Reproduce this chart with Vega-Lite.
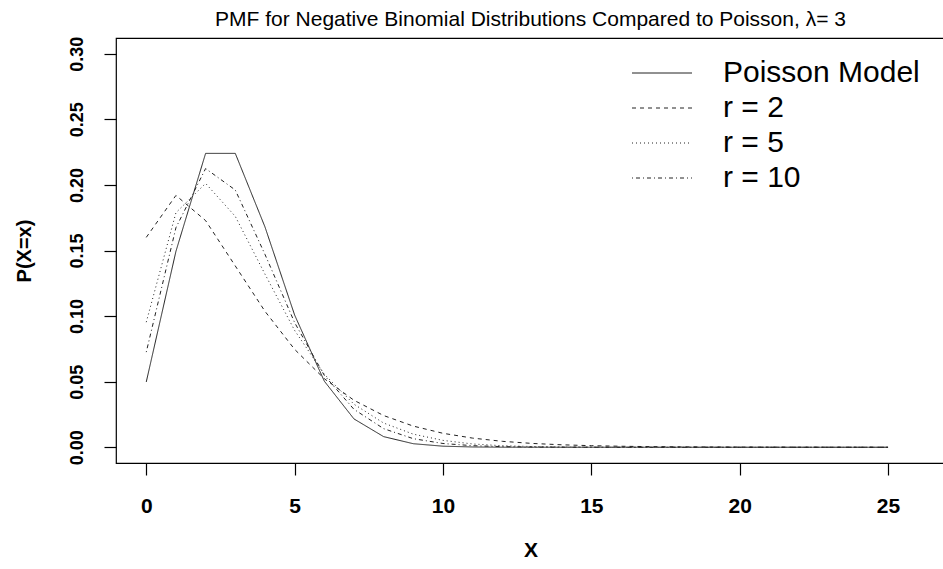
{
  "$schema": "https://vega.github.io/schema/vega-lite/v6.json",
  "width": 829,
  "height": 425,
  "autosize": {"type": "none"},
  "padding": {"left": 116, "top": 38, "right": 0, "bottom": 106},
  "background": "white",
  "title": {
    "text": "PMF for Negative Binomial Distributions Compared to Poisson, λ= 3",
    "font": "Liberation Sans",
    "fontSize": 21,
    "fontWeight": "normal",
    "color": "black",
    "anchor": "middle",
    "baseline": "alphabetic",
    "offset": 11,
    "dy": 22
  },
  "config": {
    "font": "Liberation Sans",
    "view": {"stroke": "black", "strokeWidth": 1.2}
  },
  "data": {
    "values": [
      {"x": 0, "p": 0.049787, "dist": "Poisson Model"},
      {"x": 1, "p": 0.149361, "dist": "Poisson Model"},
      {"x": 2, "p": 0.224042, "dist": "Poisson Model"},
      {"x": 3, "p": 0.224042, "dist": "Poisson Model"},
      {"x": 4, "p": 0.168031, "dist": "Poisson Model"},
      {"x": 5, "p": 0.100819, "dist": "Poisson Model"},
      {"x": 6, "p": 0.050409, "dist": "Poisson Model"},
      {"x": 7, "p": 0.021604, "dist": "Poisson Model"},
      {"x": 8, "p": 0.008102, "dist": "Poisson Model"},
      {"x": 9, "p": 0.002701, "dist": "Poisson Model"},
      {"x": 10, "p": 0.00081, "dist": "Poisson Model"},
      {"x": 11, "p": 0.000221, "dist": "Poisson Model"},
      {"x": 12, "p": 0.000055, "dist": "Poisson Model"},
      {"x": 13, "p": 0.000013, "dist": "Poisson Model"},
      {"x": 14, "p": 0.000003, "dist": "Poisson Model"},
      {"x": 15, "p": 0.000001, "dist": "Poisson Model"},
      {"x": 16, "p": 0, "dist": "Poisson Model"},
      {"x": 17, "p": 0, "dist": "Poisson Model"},
      {"x": 18, "p": 0, "dist": "Poisson Model"},
      {"x": 19, "p": 0, "dist": "Poisson Model"},
      {"x": 20, "p": 0, "dist": "Poisson Model"},
      {"x": 21, "p": 0, "dist": "Poisson Model"},
      {"x": 22, "p": 0, "dist": "Poisson Model"},
      {"x": 23, "p": 0, "dist": "Poisson Model"},
      {"x": 24, "p": 0, "dist": "Poisson Model"},
      {"x": 25, "p": 0, "dist": "Poisson Model"},
      {"x": 0, "p": 0.16, "dist": "r = 2"},
      {"x": 1, "p": 0.192, "dist": "r = 2"},
      {"x": 2, "p": 0.1728, "dist": "r = 2"},
      {"x": 3, "p": 0.13824, "dist": "r = 2"},
      {"x": 4, "p": 0.10368, "dist": "r = 2"},
      {"x": 5, "p": 0.07465, "dist": "r = 2"},
      {"x": 6, "p": 0.052255, "dist": "r = 2"},
      {"x": 7, "p": 0.035832, "dist": "r = 2"},
      {"x": 8, "p": 0.024186, "dist": "r = 2"},
      {"x": 9, "p": 0.016124, "dist": "r = 2"},
      {"x": 10, "p": 0.010642, "dist": "r = 2"},
      {"x": 11, "p": 0.006966, "dist": "r = 2"},
      {"x": 12, "p": 0.004528, "dist": "r = 2"},
      {"x": 13, "p": 0.002926, "dist": "r = 2"},
      {"x": 14, "p": 0.001881, "dist": "r = 2"},
      {"x": 15, "p": 0.001204, "dist": "r = 2"},
      {"x": 16, "p": 0.000767, "dist": "r = 2"},
      {"x": 17, "p": 0.000487, "dist": "r = 2"},
      {"x": 18, "p": 0.000309, "dist": "r = 2"},
      {"x": 19, "p": 0.000195, "dist": "r = 2"},
      {"x": 20, "p": 0.000123, "dist": "r = 2"},
      {"x": 21, "p": 0.000077, "dist": "r = 2"},
      {"x": 22, "p": 0.000048, "dist": "r = 2"},
      {"x": 23, "p": 0.00003, "dist": "r = 2"},
      {"x": 24, "p": 0.000019, "dist": "r = 2"},
      {"x": 25, "p": 0.000012, "dist": "r = 2"},
      {"x": 0, "p": 0.095367, "dist": "r = 5"},
      {"x": 1, "p": 0.178814, "dist": "r = 5"},
      {"x": 2, "p": 0.201166, "dist": "r = 5"},
      {"x": 3, "p": 0.17602, "dist": "r = 5"},
      {"x": 4, "p": 0.132015, "dist": "r = 5"},
      {"x": 5, "p": 0.08911, "dist": "r = 5"},
      {"x": 6, "p": 0.055694, "dist": "r = 5"},
      {"x": 7, "p": 0.032819, "dist": "r = 5"},
      {"x": 8, "p": 0.018461, "dist": "r = 5"},
      {"x": 9, "p": 0.01, "dist": "r = 5"},
      {"x": 10, "p": 0.00525, "dist": "r = 5"},
      {"x": 11, "p": 0.002506, "dist": "r = 5"},
      {"x": 12, "p": 0.001175, "dist": "r = 5"},
      {"x": 13, "p": 0.000542, "dist": "r = 5"},
      {"x": 14, "p": 0.000247, "dist": "r = 5"},
      {"x": 15, "p": 0.000111, "dist": "r = 5"},
      {"x": 16, "p": 0.000049, "dist": "r = 5"},
      {"x": 17, "p": 0.000022, "dist": "r = 5"},
      {"x": 18, "p": 0.00001, "dist": "r = 5"},
      {"x": 19, "p": 0.000004, "dist": "r = 5"},
      {"x": 20, "p": 0.000002, "dist": "r = 5"},
      {"x": 21, "p": 0.000001, "dist": "r = 5"},
      {"x": 22, "p": 0, "dist": "r = 5"},
      {"x": 23, "p": 0, "dist": "r = 5"},
      {"x": 24, "p": 0, "dist": "r = 5"},
      {"x": 25, "p": 0, "dist": "r = 5"},
      {"x": 0, "p": 0.07254, "dist": "r = 10"},
      {"x": 1, "p": 0.1674, "dist": "r = 10"},
      {"x": 2, "p": 0.21247, "dist": "r = 10"},
      {"x": 3, "p": 0.196126, "dist": "r = 10"},
      {"x": 4, "p": 0.147095, "dist": "r = 10"},
      {"x": 5, "p": 0.095046, "dist": "r = 10"},
      {"x": 6, "p": 0.054834, "dist": "r = 10"},
      {"x": 7, "p": 0.028923, "dist": "r = 10"},
      {"x": 8, "p": 0.014183, "dist": "r = 10"},
      {"x": 9, "p": 0.006546, "dist": "r = 10"},
      {"x": 10, "p": 0.00287, "dist": "r = 10"},
      {"x": 11, "p": 0.001204, "dist": "r = 10"},
      {"x": 12, "p": 0.000486, "dist": "r = 10"},
      {"x": 13, "p": 0.00019, "dist": "r = 10"},
      {"x": 14, "p": 0.000072, "dist": "r = 10"},
      {"x": 15, "p": 0.000027, "dist": "r = 10"},
      {"x": 16, "p": 0.00001, "dist": "r = 10"},
      {"x": 17, "p": 0.000003, "dist": "r = 10"},
      {"x": 18, "p": 0.000001, "dist": "r = 10"},
      {"x": 19, "p": 0, "dist": "r = 10"},
      {"x": 20, "p": 0, "dist": "r = 10"},
      {"x": 21, "p": 0, "dist": "r = 10"},
      {"x": 22, "p": 0, "dist": "r = 10"},
      {"x": 23, "p": 0, "dist": "r = 10"},
      {"x": 24, "p": 0, "dist": "r = 10"},
      {"x": 25, "p": 0, "dist": "r = 10"}
    ]
  },
  "mark": {"type": "line", "stroke": "#222", "strokeWidth": 1, "clip": true},
  "encoding": {
    "x": {
      "field": "x",
      "type": "quantitative",
      "scale": {"domain": [-1.02, 26.92], "nice": false, "zero": false},
      "axis": {
        "values": [0, 5, 10, 15, 20, 25],
        "title": "X",
        "domain": false,
        "grid": false,
        "tickSize": 12,
        "tickColor": "black",
        "tickWidth": 1.2,
        "labelFontSize": 21,
        "labelFontWeight": "bold",
        "labelColor": "black",
        "labelBaseline": "alphabetic",
        "labelPadding": 37,
        "labelFlush": false,
        "titleFontSize": 21,
        "titleFontWeight": "bold",
        "titleColor": "black",
        "titleBaseline": "alphabetic",
        "titleX": 414.5,
        "titleY": 93
      }
    },
    "y": {
      "field": "p",
      "type": "quantitative",
      "scale": {"domain": [-0.012, 0.312], "nice": false, "zero": false},
      "axis": {
        "values": [0, 0.05, 0.1, 0.15, 0.2, 0.25, 0.3],
        "format": ".2f",
        "title": "P(X=x)",
        "domain": false,
        "grid": false,
        "tickSize": 12,
        "tickColor": "black",
        "tickWidth": 1.2,
        "labelAngle": -90,
        "labelAlign": "center",
        "labelBaseline": "alphabetic",
        "labelFont": "Liberation Sans",
        "labelFontSize": 18,
        "labelFontWeight": "bold",
        "labelColor": "black",
        "labelPadding": 22,
        "labelFlush": false,
        "titleFontSize": 20,
        "titleFontWeight": "bold",
        "titleColor": "black",
        "titleAngle": -90,
        "titleAlign": "center",
        "titleBaseline": "alphabetic",
        "titleX": -86,
        "titleY": 212.5
      }
    },
    "strokeDash": {
      "field": "dist",
      "type": "nominal",
      "scale": {
        "domain": ["Poisson Model", "r = 2", "r = 5", "r = 10"],
        "range": [[1, 0], [4, 4], [1, 3], [1, 3, 4, 3]]
      },
      "legend": {
        "title": null,
        "orient": "none",
        "legendX": 531,
        "legendY": 20,
        "padding": 0,
        "symbolType": "M-3,0H3",
        "symbolSize": 400,
        "symbolStrokeColor": "#222",
        "symbolFillColor": "transparent",
        "symbolStrokeWidth": 1,
        "labelFontSize": 30,
        "labelColor": "black",
        "labelLimit": 400,
        "labelOffset": 46,
        "rowPadding": 5
      }
    }
  }
}
